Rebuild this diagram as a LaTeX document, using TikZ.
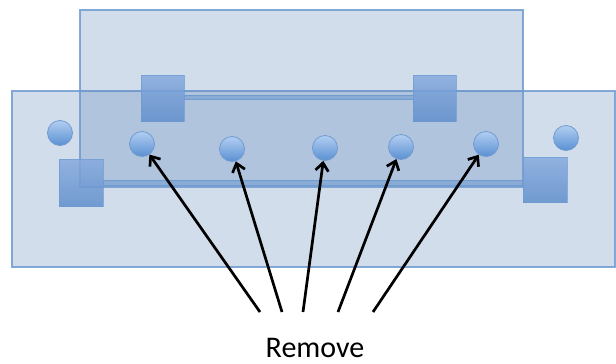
\documentclass[tikz,border=0pt]{standalone}
\usepackage{fontspec}
\setmainfont{Carlito}
\usetikzlibrary{arrows.meta}
\definecolor{paneblue}{RGB}{88,128,182}
\definecolor{paneedge}{RGB}{111,155,208}
\definecolor{boxtop}{RGB}{134,170,222}
\definecolor{boxbot}{RGB}{96,143,204}
\definecolor{balltop}{RGB}{178,206,242}
\definecolor{ballbot}{RGB}{90,144,210}
\begin{document}
\begin{tikzpicture}[x=1pt,y=-1pt,
  pane/.style={fill=paneblue,fill opacity=0.27,draw=paneedge,draw opacity=0.85,line width=1.5pt},
  block/.style={draw=paneedge,line width=0.8pt,top color=boxtop,bottom color=boxbot,fill opacity=0.85,draw opacity=0.7},
  bar/.style={draw=paneedge,line width=1pt,fill=paneedge,fill opacity=0.6},
  ball/.style={circle,minimum size=25pt,inner sep=0pt,draw=paneedge,line width=0.8pt,top color=balltop,bottom color=ballbot},
  pointer/.style={line width=2.7pt,-{Straight Barb[length=8pt,width=13pt,line width=2.7pt]}}]
\useasboundingbox (0,0) rectangle (616,364);
% two overlapping panes
\draw[pane] (12,91) rectangle (615,267);
\draw[pane] (80,10) rectangle (523,187);
% connecting bars
\draw[bar] (184,95.5) rectangle (413,99.5);
\draw[bar] (103,180) rectangle (523,185);
% square blocks
\draw[block] (141,75) rectangle (184,121);
\draw[block] (413,75) rectangle (456,121);
\draw[block] (59,159) rectangle (103,206);
\draw[block] (523,157) rectangle (567,202);
% balls
\node[ball] (o1) at (60,133) {};
\node[ball] (o2) at (566,138) {};
\node[ball] (c1) at (142,144) {};
\node[ball] (c2) at (232,149) {};
\node[ball] (c3) at (325,148) {};
\node[ball] (c4) at (401,147) {};
\node[ball] (c5) at (486,144) {};
% label and pointers
\node[anchor=base,font=\fontsize{30}{36}\selectfont,inner sep=0pt] (rm) at (315,357) {Remove};
\coordinate (s1) at (260,312);
\coordinate (s2) at (282,312);
\coordinate (s3) at (303,312);
\coordinate (s4) at (338,312);
\coordinate (s5) at (373,312);
\draw[pointer] (s1) -- (c1);
\draw[pointer] (s2) -- (c2);
\draw[pointer] (s3) -- (c3);
\draw[pointer] (s4) -- (c4);
\draw[pointer] (s5) -- (c5);
\end{tikzpicture}
\end{document}
